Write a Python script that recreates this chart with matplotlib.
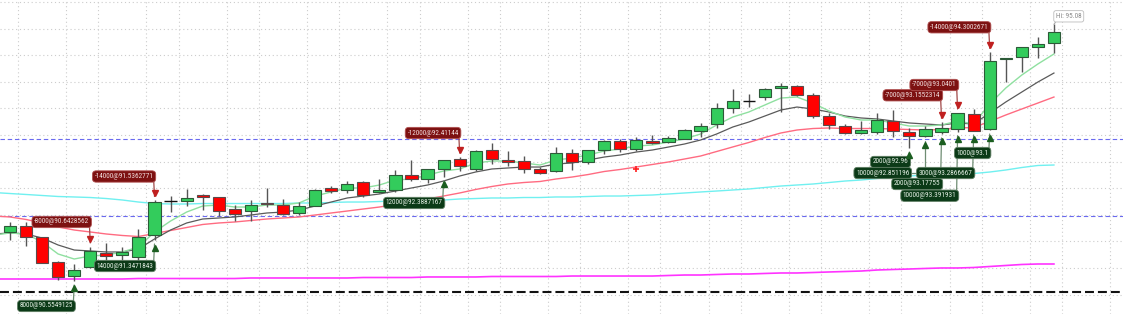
import numpy as np
import matplotlib.pyplot as plt
from matplotlib import font_manager
from matplotlib.transforms import offset_copy

# candles (price), one per bar
opens = [91.182, 91.289, 91.077, 90.613, 90.355, 90.513, 90.782, 90.750, 90.701, 91.120,
         91.767, 91.754, 91.872, 91.829, 91.603, 91.562, 91.722, 91.684, 91.539, 91.671,
         91.998, 91.961, 92.117, 91.929, 91.961, 92.242, 92.167, 92.367, 92.543, 92.367,
         92.712, 92.536, 92.506, 92.355, 92.323, 92.656, 92.498, 92.718, 92.887, 92.731,
         92.887, 92.863, 92.930, 93.081, 93.201, 93.502, 93.633, 93.709, 93.878, 93.921,
         93.752, 93.357, 93.169, 93.032, 93.051, 93.263, 93.062, 92.987, 93.062, 93.113,
         93.400, 93.107, 94.423, 94.461, 94.649, 94.724]
highs = [91.370, 91.370, 91.083, 90.632, 90.575, 90.895, 90.970, 90.900, 91.227, 91.769,
         91.853, 91.985, 91.891, 91.835, 91.684, 91.769, 92.004, 91.791, 91.746, 91.976,
         92.047, 92.141, 92.126, 92.167, 92.342, 92.530, 92.370, 92.530, 92.586, 92.709,
         92.855, 92.699, 92.605, 92.398, 92.769, 92.731, 92.718, 92.906, 92.930, 92.957,
         93.000, 92.981, 93.107, 93.220, 93.607, 93.859, 93.765, 93.883, 93.972, 93.940,
         93.795, 93.408, 93.207, 93.263, 93.408, 93.470, 93.137, 93.175, 93.239, 93.414,
         93.489, 94.555, 94.453, 94.654, 94.848, 95.081]
lows = [91.026, 90.919, 90.594, 90.274, 90.256, 90.509, 90.650, 90.650, 90.637, 91.026,
        91.558, 91.665, 91.590, 91.477, 91.383, 91.383, 91.647, 91.496, 91.496, 91.656,
        91.904, 91.910, 91.829, 91.915, 91.934, 92.135, 92.103, 92.211, 92.329, 92.329,
        92.455, 92.417, 92.291, 92.261, 92.305, 92.342, 92.455, 92.648, 92.686, 92.705,
        92.831, 92.844, 92.925, 92.968, 93.126, 93.419, 93.532, 93.658, 93.438, 93.733,
        93.325, 93.107, 93.019, 93.013, 93.024, 92.968, 92.756, 92.962, 93.019, 93.062,
        93.075, 93.094, 94.002, 94.190, 94.453, 94.536]
closes = [91.289, 91.077, 90.600, 90.336, 90.462, 90.825, 90.726, 90.801, 91.077, 91.741,
          91.767, 91.810, 91.829, 91.566, 91.515, 91.684, 91.709, 91.524, 91.665, 91.966,
          91.953, 92.073, 91.878, 91.961, 92.242, 92.173, 92.367, 92.524, 92.423, 92.705,
          92.543, 92.492, 92.361, 92.280, 92.656, 92.498, 92.712, 92.887, 92.731, 92.900,
          92.850, 92.938, 93.088, 93.164, 93.513, 93.633, 93.633, 93.870, 93.915, 93.752,
          93.363, 93.182, 93.032, 93.094, 93.276, 93.081, 92.987, 93.107, 93.126, 93.408,
          93.081, 94.391, 94.442, 94.649, 94.705, 94.930]

# moving averages, bar -1 .. 65
ma_fast = [91.120, 91.158, 91.139, 90.989, 90.763, 90.669, 90.726, 90.744, 90.801, 90.895, 91.177,
           91.383, 91.552, 91.665, 91.684, 91.646, 91.646, 91.684, 91.684, 91.722, 91.853,
           91.929, 92.004, 92.004, 92.060, 92.154, 92.173, 92.248, 92.323, 92.361, 92.474,
           92.511, 92.511, 92.474, 92.436, 92.530, 92.568, 92.624, 92.699, 92.737, 92.793,
           92.812, 92.868, 92.925, 93.019, 93.188, 93.338, 93.432, 93.564, 93.695, 93.714,
           93.601, 93.451, 93.338, 93.282, 93.282, 93.226, 93.169, 93.169, 93.188, 93.263,
           93.207, 93.583, 93.883, 94.128, 94.335, 94.523]
ma_mid = [91.139, 91.158, 91.139, 91.064, 90.932, 90.838, 90.820, 90.801, 90.801, 90.857, 91.045,
          91.214, 91.346, 91.421, 91.440, 91.459, 91.496, 91.534, 91.552, 91.590, 91.665,
          91.740, 91.816, 91.853, 91.891, 91.947, 92.004, 92.060, 92.135, 92.229, 92.305,
          92.361, 92.380, 92.398, 92.398, 92.455, 92.474, 92.530, 92.586, 92.624, 92.680,
          92.718, 92.774, 92.831, 92.906, 93.019, 93.150, 93.244, 93.357, 93.470, 93.526,
          93.489, 93.432, 93.357, 93.320, 93.301, 93.263, 93.226, 93.207, 93.188, 93.226,
          93.207, 93.413, 93.620, 93.808, 93.996, 94.165]
ma_slow = [91.477, 91.459, 91.412, 91.346, 91.271, 91.214, 91.177, 91.139, 91.111, 91.092, 91.148,
           91.205, 91.261, 91.318, 91.346, 91.365, 91.393, 91.421, 91.440, 91.459, 91.496,
           91.534, 91.571, 91.609, 91.646, 91.694, 91.740, 91.797, 91.853, 91.910, 91.976,
           92.032, 92.079, 92.107, 92.126, 92.173, 92.210, 92.257, 92.314, 92.352, 92.399,
           92.446, 92.493, 92.549, 92.605, 92.690, 92.775, 92.859, 92.953, 93.038, 93.094,
           93.122, 93.132, 93.122, 93.122, 93.122, 93.113, 93.103, 93.094, 93.103, 93.132,
           93.141, 93.254, 93.376, 93.489, 93.601, 93.714]
ma_long = [91.919, 91.900, 91.882, 91.863, 91.844, 91.835, 91.825, 91.806, 91.778, 91.740, 91.712,
           91.703, 91.703, 91.712, 91.712, 91.712, 91.712, 91.712, 91.712, 91.722, 91.722,
           91.731, 91.740, 91.740, 91.750, 91.759, 91.759, 91.768, 91.778, 91.797, 91.806,
           91.816, 91.816, 91.825, 91.825, 91.835, 91.835, 91.844, 91.853, 91.853, 91.863,
           91.872, 91.891, 91.910, 91.929, 91.947, 91.966, 91.985, 92.013, 92.041, 92.060,
           92.079, 92.107, 92.135, 92.154, 92.182, 92.210, 92.229, 92.248, 92.257, 92.267,
           92.276, 92.304, 92.342, 92.389, 92.427, 92.436]
ma_200 = [90.293, 90.293, 90.293, 90.293, 90.293, 90.293, 90.293, 90.293, 90.293, 90.302, 90.302,
          90.302, 90.302, 90.302, 90.302, 90.302, 90.312, 90.312, 90.312, 90.312, 90.312,
          90.312, 90.312, 90.321, 90.321, 90.321, 90.321, 90.331, 90.331, 90.331, 90.331,
          90.340, 90.340, 90.340, 90.340, 90.340, 90.349, 90.349, 90.349, 90.349, 90.349,
          90.349, 90.359, 90.368, 90.368, 90.378, 90.387, 90.387, 90.397, 90.406, 90.406,
          90.415, 90.425, 90.434, 90.443, 90.462, 90.472, 90.481, 90.491, 90.500, 90.500,
          90.509, 90.528, 90.547, 90.566, 90.575, 90.575]

# horizontal levels
blue_levels = [92.92, 91.47]
black_level = 90.04

# signal dot on the slow average
signal_bar = 39
signal_price = 92.37

# fills
sell_bars = [5, 9, 28, 58, 59, 61]
sell_texts = ['-8000@90.6428562', '-14000@91.5362771', '-12000@92.41144',
              '-7000@93.1552314', '-7000@93.0401', '-14000@94.3002671']
buy_bars = [4, 9, 27, 56, 57, 58, 59, 60, 61]
buy_texts = ['8000@90.5549125', '14000@91.3471843', '12000@92.3887167', '2000@92.96',
             '10000@92.851196', '2000@93.17755', '10000@93.391931', '3000@93.2866667',
             '1000@93.1']
# label placement relative to the candle (pixels)
sell_dy = [25, 24, 24, 27, 28, 25]
buy_dy = [25, 26, 26, 14, 36, 50, 64, 42, 23]
buy_dx = [0, 0, 0, 0, -15, 0, 0, 0, 0]


def pick_font(names):
    for n in names:
        try:
            font_manager.findfont(n, fallback_to_default=False)
            return n
        except ValueError:
            pass
    return 'DejaVu Sans'


lab_font = pick_font(['Liberation Sans Narrow', 'DejaVu Sans Condensed', 'Roboto Condensed'])

fig = plt.figure(figsize=(11.23, 3.14), dpi=100)
ax = fig.add_axes([0, 0, 1, 1])

bars = np.arange(len(opens))
ma_x = np.arange(-1, len(opens))

# grid
vgrid = sorted([b + 0.5 for b in range(0, 70, 5)] + [b + 3.5 for b in range(0, 70, 5)])
ax.set_xticks(vgrid)
ax.set_yticks(np.arange(89.5, 95.6, 0.5))
ax.tick_params(length=0, labelbottom=False, labelleft=False)
for s in ax.spines.values():
    s.set_visible(False)
ax.grid(True, color='#cccccc', linestyle=(0, (1, 2.5)), linewidth=0.8)
ax.set_axisbelow(True)

for lv in blue_levels:
    ax.axhline(lv, color='#6a6af0', lw=0.8, ls=(0, (4, 2.5)), zorder=1)
ax.axhline(black_level, color='#111111', lw=1.5, ls=(0, (4.3, 1.9)), zorder=1)

# averages
ax.plot(ma_x, ma_200, color='#ff33ff', lw=1.2, zorder=1.5)
ax.plot(ma_x, ma_long, color='#70f0f0', lw=1.0, zorder=1.5)
ax.plot(ma_x, ma_slow, color='#ff6b81', lw=1.0, zorder=1.6)
ax.plot(ma_x, ma_mid, color='#5a5a5a', lw=0.9, zorder=1.7)
ax.plot(ma_x, ma_fast, color='#8fe0a0', lw=1.0, zorder=1.8)
ax.plot(signal_bar, signal_price, marker='+', ms=4, mew=1.2, color='#ff2020', zorder=1.9)

# candles
o = np.array(opens)
c = np.array(closes)
up = c > o
dn = c < o
flat = c == o
ax.vlines(bars, lows, highs, color='#555555', lw=1.0, zorder=2.5)
ax.bar(bars[up], (c - o)[up], bottom=o[up], width=0.76, color='#33cc5c',
       edgecolor='#2d5a38', linewidth=0.8, zorder=3)
ax.bar(bars[dn], (o - c)[dn], bottom=c[dn], width=0.76, color='#ff0000',
       edgecolor='#5a4a4a', linewidth=0.8, zorder=3)
ax.bar(bars[flat], np.zeros(flat.sum()), bottom=o[flat], width=0.76, color='none',
       edgecolor='#111111', linewidth=1.0, zorder=3)

# fills
tip_up = offset_copy(ax.transData, fig=fig, x=0, y=4, units='dots')
tip_dn = offset_copy(ax.transData, fig=fig, x=0, y=-4, units='dots')
mk_up = offset_copy(ax.transData, fig=fig, x=0, y=7.5, units='dots')
mk_dn = offset_copy(ax.transData, fig=fig, x=0, y=-7.5, units='dots')

for b, t, dy in zip(sell_bars, sell_texts, sell_dy):
    ax.annotate(t, xy=(b, highs[b]), xycoords=tip_up, xytext=(-1, dy - 4),
                textcoords='offset pixels', ha='right', va='center',
                fontsize=5.2, family=lab_font, color='#f2dede', zorder=6,
                bbox=dict(boxstyle='round,pad=0.3,rounding_size=0.5', fc='#7d1111',
                          ec='#b05050', lw=0.6),
                arrowprops=dict(arrowstyle='-', color='#a04848', lw=0.9,
                                shrinkA=0, shrinkB=0, relpos=(1, 0.5)))
    ax.plot(b, highs[b], marker='v', ms=5, color='#c02020', ls='none',
            transform=mk_up, zorder=6)

for b, t, dy, dx in zip(buy_bars, buy_texts, buy_dy, buy_dx):
    conn = 'arc3' if dx == 0 else 'angle,angleA=0,angleB=90,rad=0'
    ax.annotate(t, xy=(b, lows[b]), xycoords=tip_dn, xytext=(dx - 1, -(dy - 4)),
                textcoords='offset pixels', ha='right', va='center',
                fontsize=5.2, family=lab_font, color='#e4efe4', zorder=6,
                bbox=dict(boxstyle='round,pad=0.3,rounding_size=0.5', fc='#0b3a17',
                          ec='#5e7d62', lw=0.6),
                arrowprops=dict(arrowstyle='-', color='#6f8d73', lw=0.9,
                                shrinkA=0, shrinkB=0, relpos=(1, 0.5),
                                connectionstyle=conn))
    ax.plot(b, lows[b], marker='^', ms=5, color='#1b5e20', ls='none',
            transform=mk_dn, zorder=6)

# session high
hi_bar = int(np.argmax(highs))
ax.annotate(f'Hi: {max(highs):.2f}', xy=(hi_bar, highs[hi_bar]), xytext=(2, 8),
            textcoords='offset pixels', ha='left', va='center', fontsize=5.2,
            family=lab_font, color='#8a8a8a', zorder=6,
            bbox=dict(boxstyle='round,pad=0.3,rounding_size=0.3', fc='white',
                      ec='#bdbdbd', lw=0.6),
            arrowprops=dict(arrowstyle='-', color='#aaaaaa', lw=0.8,
                            shrinkA=0, shrinkB=0, relpos=(0.05, 0)))

ax.set_xlim(-0.62, 69.3)
ax.set_ylim(89.635, 95.538)

fig.savefig('out.png', dpi=100)
